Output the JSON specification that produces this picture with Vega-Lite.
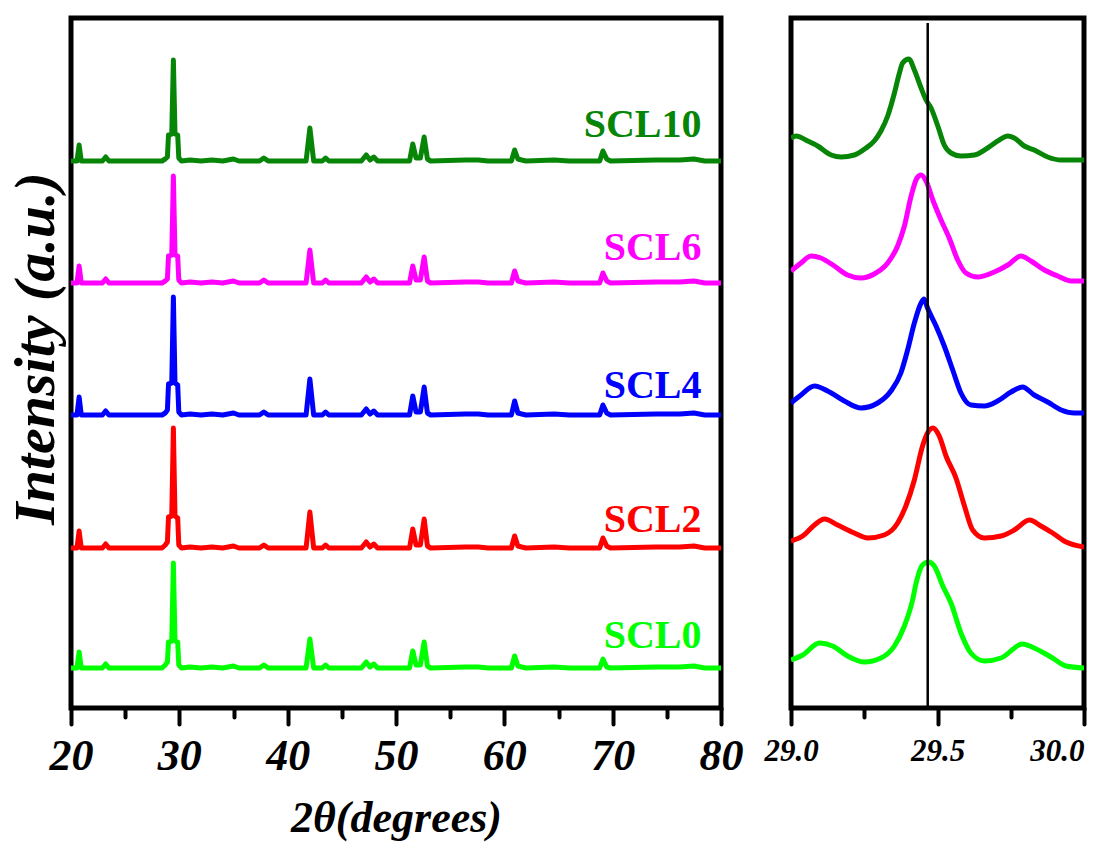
{
  "$schema": "https://vega.github.io/schema/vega-lite/v6.json",
  "background": "white",
  "padding": {"left": 4, "top": 15, "right": 0, "bottom": 0},
  "spacing": 70,
  "bounds": "flush",
  "config": {
    "view": {"stroke": "black", "strokeWidth": 5},
    "font": "Liberation Serif, Times New Roman, serif"
  },
  "datasets": {
    "labels": [
      {"s": "SCL10", "x": 78.2, "y": 583},
      {"s": "SCL6", "x": 78.2, "y": 460},
      {"s": "SCL4", "x": 78.2, "y": 322},
      {"s": "SCL2", "x": 78.2, "y": 188},
      {"s": "SCL0", "x": 78.2, "y": 72}
    ],
    "xrd": [
      {"s":"SCL10","x":20,"y":547},{"s":"SCL10","x":20.55,"y":547},{"s":"SCL10","x":20.75,"y":563},{"s":"SCL10","x":20.95,"y":547},{"s":"SCL10","x":22.9,"y":547},{"s":"SCL10","x":23.2,"y":551},{"s":"SCL10","x":23.5,"y":547},{"s":"SCL10","x":28.4,"y":547},{"s":"SCL10","x":28.7,"y":549},{"s":"SCL10","x":28.9,"y":551},{"s":"SCL10","x":29.0,"y":573},{"s":"SCL10","x":29.3,"y":574},{"s":"SCL10","x":29.45,"y":648},{"s":"SCL10","x":29.6,"y":574},{"s":"SCL10","x":29.85,"y":573},{"s":"SCL10","x":29.95,"y":550},{"s":"SCL10","x":30.2,"y":547},{"s":"SCL10","x":31,"y":548},{"s":"SCL10","x":32,"y":547},{"s":"SCL10","x":33,"y":548},{"s":"SCL10","x":34,"y":547},{"s":"SCL10","x":35,"y":549},{"s":"SCL10","x":35.5,"y":547},{"s":"SCL10","x":37.4,"y":547},{"s":"SCL10","x":37.8,"y":550},{"s":"SCL10","x":38.2,"y":547},{"s":"SCL10","x":41.7,"y":547},{"s":"SCL10","x":42.05,"y":580},{"s":"SCL10","x":42.4,"y":547},{"s":"SCL10","x":43.2,"y":547},{"s":"SCL10","x":43.5,"y":550},{"s":"SCL10","x":43.8,"y":547},{"s":"SCL10","x":46.8,"y":547},{"s":"SCL10","x":47.25,"y":553},{"s":"SCL10","x":47.6,"y":548},{"s":"SCL10","x":47.95,"y":551},{"s":"SCL10","x":48.3,"y":547},{"s":"SCL10","x":51.25,"y":547},{"s":"SCL10","x":51.55,"y":564},{"s":"SCL10","x":51.85,"y":550},{"s":"SCL10","x":52.25,"y":550},{"s":"SCL10","x":52.6,"y":571},{"s":"SCL10","x":52.9,"y":549},{"s":"SCL10","x":53.2,"y":547},{"s":"SCL10","x":56.4,"y":548},{"s":"SCL10","x":57.6,"y":548},{"s":"SCL10","x":58.5,"y":547},{"s":"SCL10","x":60.65,"y":547},{"s":"SCL10","x":60.95,"y":558},{"s":"SCL10","x":61.25,"y":549},{"s":"SCL10","x":61.6,"y":548},{"s":"SCL10","x":62,"y":547},{"s":"SCL10","x":64.6,"y":548},{"s":"SCL10","x":66,"y":547},{"s":"SCL10","x":68.8,"y":547},{"s":"SCL10","x":69.1,"y":557},{"s":"SCL10","x":69.45,"y":549},{"s":"SCL10","x":69.8,"y":547},{"s":"SCL10","x":74,"y":548},{"s":"SCL10","x":76.2,"y":548},{"s":"SCL10","x":77.5,"y":549},{"s":"SCL10","x":78.5,"y":547},{"s":"SCL10","x":80,"y":547},

      {"s":"SCL6","x":20,"y":425},{"s":"SCL6","x":20.55,"y":425},{"s":"SCL6","x":20.75,"y":442},{"s":"SCL6","x":20.95,"y":425},{"s":"SCL6","x":22.9,"y":425},{"s":"SCL6","x":23.2,"y":429},{"s":"SCL6","x":23.5,"y":425},{"s":"SCL6","x":28.4,"y":425},{"s":"SCL6","x":28.7,"y":427},{"s":"SCL6","x":28.9,"y":429},{"s":"SCL6","x":29.0,"y":452},{"s":"SCL6","x":29.3,"y":453},{"s":"SCL6","x":29.45,"y":532},{"s":"SCL6","x":29.6,"y":453},{"s":"SCL6","x":29.85,"y":452},{"s":"SCL6","x":29.95,"y":428},{"s":"SCL6","x":30.2,"y":425},{"s":"SCL6","x":31,"y":426},{"s":"SCL6","x":32,"y":425},{"s":"SCL6","x":33,"y":426},{"s":"SCL6","x":34,"y":425},{"s":"SCL6","x":35,"y":427},{"s":"SCL6","x":35.5,"y":425},{"s":"SCL6","x":37.4,"y":425},{"s":"SCL6","x":37.8,"y":428},{"s":"SCL6","x":38.2,"y":425},{"s":"SCL6","x":41.7,"y":425},{"s":"SCL6","x":42.05,"y":458},{"s":"SCL6","x":42.4,"y":425},{"s":"SCL6","x":43.2,"y":425},{"s":"SCL6","x":43.5,"y":428},{"s":"SCL6","x":43.8,"y":425},{"s":"SCL6","x":46.8,"y":425},{"s":"SCL6","x":47.25,"y":431},{"s":"SCL6","x":47.6,"y":426},{"s":"SCL6","x":47.95,"y":429},{"s":"SCL6","x":48.3,"y":425},{"s":"SCL6","x":51.25,"y":425},{"s":"SCL6","x":51.55,"y":442},{"s":"SCL6","x":51.85,"y":428},{"s":"SCL6","x":52.25,"y":428},{"s":"SCL6","x":52.6,"y":451},{"s":"SCL6","x":52.9,"y":427},{"s":"SCL6","x":53.2,"y":425},{"s":"SCL6","x":56.4,"y":426},{"s":"SCL6","x":57.6,"y":426},{"s":"SCL6","x":58.5,"y":425},{"s":"SCL6","x":60.65,"y":425},{"s":"SCL6","x":60.95,"y":437},{"s":"SCL6","x":61.25,"y":427},{"s":"SCL6","x":61.6,"y":426},{"s":"SCL6","x":62,"y":425},{"s":"SCL6","x":64.6,"y":426},{"s":"SCL6","x":66,"y":425},{"s":"SCL6","x":68.8,"y":425},{"s":"SCL6","x":69.1,"y":435},{"s":"SCL6","x":69.45,"y":427},{"s":"SCL6","x":69.8,"y":425},{"s":"SCL6","x":74,"y":426},{"s":"SCL6","x":76.2,"y":426},{"s":"SCL6","x":77.5,"y":427},{"s":"SCL6","x":78.5,"y":425},{"s":"SCL6","x":80,"y":425},

      {"s":"SCL4","x":20,"y":293},{"s":"SCL4","x":20.55,"y":293},{"s":"SCL4","x":20.75,"y":311},{"s":"SCL4","x":20.95,"y":293},{"s":"SCL4","x":22.9,"y":293},{"s":"SCL4","x":23.2,"y":297},{"s":"SCL4","x":23.5,"y":293},{"s":"SCL4","x":28.4,"y":293},{"s":"SCL4","x":28.7,"y":295},{"s":"SCL4","x":28.9,"y":298},{"s":"SCL4","x":29.0,"y":324},{"s":"SCL4","x":29.3,"y":325},{"s":"SCL4","x":29.45,"y":411},{"s":"SCL4","x":29.6,"y":325},{"s":"SCL4","x":29.85,"y":323},{"s":"SCL4","x":29.95,"y":296},{"s":"SCL4","x":30.2,"y":293},{"s":"SCL4","x":31,"y":294},{"s":"SCL4","x":32,"y":293},{"s":"SCL4","x":33,"y":294},{"s":"SCL4","x":34,"y":293},{"s":"SCL4","x":35,"y":295},{"s":"SCL4","x":35.5,"y":293},{"s":"SCL4","x":37.4,"y":293},{"s":"SCL4","x":37.8,"y":296},{"s":"SCL4","x":38.2,"y":293},{"s":"SCL4","x":41.7,"y":293},{"s":"SCL4","x":42.05,"y":329},{"s":"SCL4","x":42.4,"y":293},{"s":"SCL4","x":43.2,"y":293},{"s":"SCL4","x":43.5,"y":296},{"s":"SCL4","x":43.8,"y":293},{"s":"SCL4","x":46.8,"y":293},{"s":"SCL4","x":47.25,"y":299},{"s":"SCL4","x":47.6,"y":294},{"s":"SCL4","x":47.95,"y":297},{"s":"SCL4","x":48.3,"y":293},{"s":"SCL4","x":51.25,"y":293},{"s":"SCL4","x":51.55,"y":312},{"s":"SCL4","x":51.85,"y":296},{"s":"SCL4","x":52.25,"y":296},{"s":"SCL4","x":52.6,"y":321},{"s":"SCL4","x":52.9,"y":295},{"s":"SCL4","x":53.2,"y":293},{"s":"SCL4","x":56.4,"y":294},{"s":"SCL4","x":57.6,"y":294},{"s":"SCL4","x":58.5,"y":293},{"s":"SCL4","x":60.65,"y":293},{"s":"SCL4","x":60.95,"y":307},{"s":"SCL4","x":61.25,"y":295},{"s":"SCL4","x":61.6,"y":294},{"s":"SCL4","x":62,"y":293},{"s":"SCL4","x":64.6,"y":294},{"s":"SCL4","x":66,"y":293},{"s":"SCL4","x":68.8,"y":293},{"s":"SCL4","x":69.1,"y":303},{"s":"SCL4","x":69.45,"y":295},{"s":"SCL4","x":69.8,"y":293},{"s":"SCL4","x":74,"y":294},{"s":"SCL4","x":76.2,"y":294},{"s":"SCL4","x":77.5,"y":295},{"s":"SCL4","x":78.5,"y":293},{"s":"SCL4","x":80,"y":293},

      {"s":"SCL2","x":20,"y":160},{"s":"SCL2","x":20.55,"y":160},{"s":"SCL2","x":20.75,"y":177},{"s":"SCL2","x":20.95,"y":160},{"s":"SCL2","x":22.9,"y":160},{"s":"SCL2","x":23.2,"y":164},{"s":"SCL2","x":23.5,"y":160},{"s":"SCL2","x":28.4,"y":160},{"s":"SCL2","x":28.7,"y":163},{"s":"SCL2","x":28.9,"y":166},{"s":"SCL2","x":29.0,"y":191},{"s":"SCL2","x":29.3,"y":192},{"s":"SCL2","x":29.45,"y":280},{"s":"SCL2","x":29.6,"y":192},{"s":"SCL2","x":29.85,"y":190},{"s":"SCL2","x":29.95,"y":163},{"s":"SCL2","x":30.2,"y":160},{"s":"SCL2","x":31,"y":161},{"s":"SCL2","x":32,"y":160},{"s":"SCL2","x":33,"y":161},{"s":"SCL2","x":34,"y":160},{"s":"SCL2","x":35,"y":162},{"s":"SCL2","x":35.5,"y":160},{"s":"SCL2","x":37.4,"y":160},{"s":"SCL2","x":37.8,"y":163},{"s":"SCL2","x":38.2,"y":160},{"s":"SCL2","x":41.7,"y":160},{"s":"SCL2","x":42.05,"y":196},{"s":"SCL2","x":42.4,"y":160},{"s":"SCL2","x":43.2,"y":160},{"s":"SCL2","x":43.5,"y":163},{"s":"SCL2","x":43.8,"y":160},{"s":"SCL2","x":46.8,"y":160},{"s":"SCL2","x":47.25,"y":166},{"s":"SCL2","x":47.6,"y":161},{"s":"SCL2","x":47.95,"y":164},{"s":"SCL2","x":48.3,"y":160},{"s":"SCL2","x":51.25,"y":160},{"s":"SCL2","x":51.55,"y":179},{"s":"SCL2","x":51.85,"y":163},{"s":"SCL2","x":52.25,"y":163},{"s":"SCL2","x":52.6,"y":189},{"s":"SCL2","x":52.9,"y":162},{"s":"SCL2","x":53.2,"y":160},{"s":"SCL2","x":56.4,"y":161},{"s":"SCL2","x":57.6,"y":161},{"s":"SCL2","x":58.5,"y":160},{"s":"SCL2","x":60.65,"y":160},{"s":"SCL2","x":60.95,"y":172},{"s":"SCL2","x":61.25,"y":162},{"s":"SCL2","x":61.6,"y":161},{"s":"SCL2","x":62,"y":160},{"s":"SCL2","x":64.6,"y":161},{"s":"SCL2","x":66,"y":160},{"s":"SCL2","x":68.8,"y":160},{"s":"SCL2","x":69.1,"y":170},{"s":"SCL2","x":69.45,"y":162},{"s":"SCL2","x":69.8,"y":160},{"s":"SCL2","x":74,"y":161},{"s":"SCL2","x":76.2,"y":161},{"s":"SCL2","x":77.5,"y":162},{"s":"SCL2","x":78.5,"y":160},{"s":"SCL2","x":80,"y":160},

      {"s":"SCL0","x":20,"y":40},{"s":"SCL0","x":20.55,"y":40},{"s":"SCL0","x":20.75,"y":56},{"s":"SCL0","x":20.95,"y":40},{"s":"SCL0","x":22.9,"y":40},{"s":"SCL0","x":23.2,"y":44},{"s":"SCL0","x":23.5,"y":40},{"s":"SCL0","x":28.4,"y":40},{"s":"SCL0","x":28.7,"y":43},{"s":"SCL0","x":28.9,"y":46},{"s":"SCL0","x":29.0,"y":66},{"s":"SCL0","x":29.3,"y":67},{"s":"SCL0","x":29.45,"y":145},{"s":"SCL0","x":29.6,"y":67},{"s":"SCL0","x":29.85,"y":66},{"s":"SCL0","x":29.95,"y":43},{"s":"SCL0","x":30.2,"y":40},{"s":"SCL0","x":31,"y":41},{"s":"SCL0","x":32,"y":40},{"s":"SCL0","x":33,"y":41},{"s":"SCL0","x":34,"y":40},{"s":"SCL0","x":35,"y":42},{"s":"SCL0","x":35.5,"y":40},{"s":"SCL0","x":37.4,"y":40},{"s":"SCL0","x":37.8,"y":43},{"s":"SCL0","x":38.2,"y":40},{"s":"SCL0","x":41.7,"y":40},{"s":"SCL0","x":42.05,"y":69},{"s":"SCL0","x":42.4,"y":40},{"s":"SCL0","x":43.2,"y":40},{"s":"SCL0","x":43.5,"y":43},{"s":"SCL0","x":43.8,"y":40},{"s":"SCL0","x":46.8,"y":40},{"s":"SCL0","x":47.25,"y":46},{"s":"SCL0","x":47.6,"y":41},{"s":"SCL0","x":47.95,"y":44},{"s":"SCL0","x":48.3,"y":40},{"s":"SCL0","x":51.25,"y":40},{"s":"SCL0","x":51.55,"y":57},{"s":"SCL0","x":51.85,"y":43},{"s":"SCL0","x":52.25,"y":43},{"s":"SCL0","x":52.6,"y":66},{"s":"SCL0","x":52.9,"y":42},{"s":"SCL0","x":53.2,"y":40},{"s":"SCL0","x":56.4,"y":41},{"s":"SCL0","x":57.6,"y":41},{"s":"SCL0","x":58.5,"y":40},{"s":"SCL0","x":60.65,"y":40},{"s":"SCL0","x":60.95,"y":52},{"s":"SCL0","x":61.25,"y":42},{"s":"SCL0","x":61.6,"y":41},{"s":"SCL0","x":62,"y":40},{"s":"SCL0","x":64.6,"y":41},{"s":"SCL0","x":66,"y":40},{"s":"SCL0","x":68.8,"y":40},{"s":"SCL0","x":69.1,"y":49},{"s":"SCL0","x":69.45,"y":41},{"s":"SCL0","x":69.8,"y":40},{"s":"SCL0","x":74,"y":41},{"s":"SCL0","x":76.2,"y":41},{"s":"SCL0","x":77.5,"y":42},{"s":"SCL0","x":78.5,"y":40},{"s":"SCL0","x":80,"y":40}
    ],
    "zoomed": [
      {"s":"SCL10","x":29.000,"y":570},{"s":"SCL10","x":29.017,"y":572},{"s":"SCL10","x":29.057,"y":567},{"s":"SCL10","x":29.091,"y":562},{"s":"SCL10","x":29.137,"y":553},{"s":"SCL10","x":29.171,"y":551},{"s":"SCL10","x":29.216,"y":553},{"s":"SCL10","x":29.256,"y":560},{"s":"SCL10","x":29.284,"y":567},{"s":"SCL10","x":29.307,"y":577},{"s":"SCL10","x":29.330,"y":592},{"s":"SCL10","x":29.353,"y":615},{"s":"SCL10","x":29.370,"y":635},{"s":"SCL10","x":29.381,"y":645},{"s":"SCL10","x":29.402,"y":649},{"s":"SCL10","x":29.421,"y":638},{"s":"SCL10","x":29.444,"y":620},{"s":"SCL10","x":29.461,"y":608},{"s":"SCL10","x":29.478,"y":600},{"s":"SCL10","x":29.501,"y":582},{"s":"SCL10","x":29.523,"y":563},{"s":"SCL10","x":29.546,"y":555},{"s":"SCL10","x":29.580,"y":552},{"s":"SCL10","x":29.626,"y":553},{"s":"SCL10","x":29.671,"y":560},{"s":"SCL10","x":29.711,"y":568},{"s":"SCL10","x":29.740,"y":572},{"s":"SCL10","x":29.762,"y":570},{"s":"SCL10","x":29.796,"y":562},{"s":"SCL10","x":29.830,"y":558},{"s":"SCL10","x":29.876,"y":551},{"s":"SCL10","x":29.922,"y":548},{"s":"SCL10","x":29.967,"y":548},{"s":"SCL10","x":30.000,"y":548},

      {"s":"SCL6","x":29.000,"y":437},{"s":"SCL6","x":29.034,"y":445},{"s":"SCL6","x":29.068,"y":452},{"s":"SCL6","x":29.102,"y":450},{"s":"SCL6","x":29.148,"y":442},{"s":"SCL6","x":29.193,"y":433},{"s":"SCL6","x":29.239,"y":430},{"s":"SCL6","x":29.284,"y":434},{"s":"SCL6","x":29.330,"y":445},{"s":"SCL6","x":29.364,"y":462},{"s":"SCL6","x":29.387,"y":482},{"s":"SCL6","x":29.410,"y":512},{"s":"SCL6","x":29.430,"y":530},{"s":"SCL6","x":29.444,"y":533},{"s":"SCL6","x":29.461,"y":527},{"s":"SCL6","x":29.484,"y":508},{"s":"SCL6","x":29.512,"y":488},{"s":"SCL6","x":29.540,"y":470},{"s":"SCL6","x":29.569,"y":448},{"s":"SCL6","x":29.597,"y":435},{"s":"SCL6","x":29.637,"y":431},{"s":"SCL6","x":29.694,"y":436},{"s":"SCL6","x":29.740,"y":443},{"s":"SCL6","x":29.785,"y":452},{"s":"SCL6","x":29.819,"y":447},{"s":"SCL6","x":29.865,"y":438},{"s":"SCL6","x":29.910,"y":432},{"s":"SCL6","x":29.956,"y":427},{"s":"SCL6","x":30.000,"y":427},

      {"s":"SCL4","x":29.000,"y":305},{"s":"SCL4","x":29.034,"y":313},{"s":"SCL4","x":29.080,"y":322},{"s":"SCL4","x":29.125,"y":317},{"s":"SCL4","x":29.182,"y":307},{"s":"SCL4","x":29.239,"y":300},{"s":"SCL4","x":29.296,"y":305},{"s":"SCL4","x":29.341,"y":317},{"s":"SCL4","x":29.375,"y":335},{"s":"SCL4","x":29.398,"y":358},{"s":"SCL4","x":29.421,"y":385},{"s":"SCL4","x":29.444,"y":405},{"s":"SCL4","x":29.454,"y":409},{"s":"SCL4","x":29.466,"y":400},{"s":"SCL4","x":29.495,"y":382},{"s":"SCL4","x":29.523,"y":362},{"s":"SCL4","x":29.552,"y":338},{"s":"SCL4","x":29.580,"y":315},{"s":"SCL4","x":29.614,"y":303},{"s":"SCL4","x":29.660,"y":302},{"s":"SCL4","x":29.705,"y":307},{"s":"SCL4","x":29.751,"y":316},{"s":"SCL4","x":29.790,"y":321},{"s":"SCL4","x":29.830,"y":313},{"s":"SCL4","x":29.876,"y":306},{"s":"SCL4","x":29.922,"y":298},{"s":"SCL4","x":29.967,"y":295},{"s":"SCL4","x":30.000,"y":295},

      {"s":"SCL2","x":29.000,"y":167},{"s":"SCL2","x":29.040,"y":172},{"s":"SCL2","x":29.080,"y":183},{"s":"SCL2","x":29.114,"y":189},{"s":"SCL2","x":29.159,"y":183},{"s":"SCL2","x":29.216,"y":175},{"s":"SCL2","x":29.262,"y":170},{"s":"SCL2","x":29.318,"y":173},{"s":"SCL2","x":29.364,"y":185},{"s":"SCL2","x":29.392,"y":202},{"s":"SCL2","x":29.421,"y":228},{"s":"SCL2","x":29.449,"y":262},{"s":"SCL2","x":29.466,"y":275},{"s":"SCL2","x":29.484,"y":280},{"s":"SCL2","x":29.506,"y":272},{"s":"SCL2","x":29.529,"y":252},{"s":"SCL2","x":29.563,"y":230},{"s":"SCL2","x":29.592,"y":202},{"s":"SCL2","x":29.620,"y":178},{"s":"SCL2","x":29.660,"y":170},{"s":"SCL2","x":29.717,"y":172},{"s":"SCL2","x":29.762,"y":178},{"s":"SCL2","x":29.814,"y":188},{"s":"SCL2","x":29.853,"y":182},{"s":"SCL2","x":29.893,"y":175},{"s":"SCL2","x":29.939,"y":166},{"s":"SCL2","x":30.000,"y":161},

      {"s":"SCL0","x":29.000,"y":48},{"s":"SCL0","x":29.040,"y":53},{"s":"SCL0","x":29.097,"y":65},{"s":"SCL0","x":29.142,"y":62},{"s":"SCL0","x":29.193,"y":52},{"s":"SCL0","x":29.250,"y":46},{"s":"SCL0","x":29.307,"y":50},{"s":"SCL0","x":29.353,"y":62},{"s":"SCL0","x":29.387,"y":82},{"s":"SCL0","x":29.415,"y":108},{"s":"SCL0","x":29.427,"y":125},{"s":"SCL0","x":29.449,"y":143},{"s":"SCL0","x":29.469,"y":146},{"s":"SCL0","x":29.489,"y":142},{"s":"SCL0","x":29.518,"y":122},{"s":"SCL0","x":29.546,"y":105},{"s":"SCL0","x":29.580,"y":75},{"s":"SCL0","x":29.614,"y":55},{"s":"SCL0","x":29.660,"y":47},{"s":"SCL0","x":29.717,"y":50},{"s":"SCL0","x":29.790,"y":64},{"s":"SCL0","x":29.830,"y":60},{"s":"SCL0","x":29.887,"y":51},{"s":"SCL0","x":29.939,"y":42},{"s":"SCL0","x":30.000,"y":40}
    ],
    "marker": [{"x": 29.4666, "y": 0, "y2": 685}]
  },
  "hconcat": [
    {
      "width": 650,
      "height": 690,
      "layer": [
        {
          "data": {"name": "xrd"},
          "mark": {"type": "line", "strokeWidth": 5, "strokeJoin": "round", "strokeCap": "round", "clip": true},
          "encoding": {
            "x": {
              "field": "x", "type": "quantitative",
              "scale": {"domain": [20, 80], "nice": false, "zero": false},
              "axis": {
                "values": [20, 25, 30, 35, 40, 45, 50, 55, 60, 65, 70, 75, 80],
                "labelExpr": "datum.value % 10 === 0 ? datum.label : ''",
                "tickSize": {"condition": {"test": "datum.value % 10 === 0", "value": 16}, "value": 9},
                "tickWidth": 4, "tickColor": "black", "tickCap": "round",
                "domain": false, "grid": false,
                "labelFont": "Liberation Serif, Times New Roman, serif", "labelFontSize": 44, "labelFontStyle": "italic", "labelFontWeight": "bold", "labelColor": "black",
                "labelPadding": 10, "labelFlush": false, "labelOverlap": false,
                "title": "2θ(degrees)",
                "titleFont": "Liberation Serif, Times New Roman, serif", "titleFontSize": 44, "titleFontStyle": "italic", "titleFontWeight": "bold", "titleColor": "black",
                "titlePadding": 18
              }
            },
            "y": {
              "field": "y", "type": "quantitative",
              "scale": {"domain": [0, 690], "nice": false, "zero": false},
              "axis": {
                "title": "Intensity (a.u.)",
                "ticks": false, "labels": false, "domain": false, "grid": false,
                "titleFont": "Liberation Serif, Times New Roman, serif", "titleFontSize": 58, "titleFontStyle": "italic", "titleFontWeight": "bold", "titleColor": "black",
                "titlePadding": 6, "titleY": 330
              }
            },
            "color": {
              "field": "s", "type": "nominal",
              "scale": {"domain": ["SCL10", "SCL6", "SCL4", "SCL2", "SCL0"], "range": ["#078507", "#ff00ff", "#0000ff", "#ff0000", "#00ff00"]},
              "legend": null
            }
          }
        },
        {
          "data": {"name": "labels"},
          "mark": {"type": "text", "align": "right", "baseline": "middle", "font": "Liberation Serif, Times New Roman, serif", "fontWeight": "bold", "fontSize": 40},
          "encoding": {
            "x": {"field": "x", "type": "quantitative"},
            "y": {"field": "y", "type": "quantitative"},
            "text": {"field": "s"},
            "color": {"field": "s", "type": "nominal", "legend": null}
          }
        }
      ]
    },
    {
      "width": 293,
      "height": 690,
      "layer": [
        {
          "data": {"name": "zoomed"},
          "mark": {"type": "line", "strokeWidth": 5, "interpolate": "monotone", "strokeJoin": "round", "clip": true},
          "encoding": {
            "x": {
              "field": "x", "type": "quantitative",
              "scale": {"domain": [29, 30], "nice": false, "zero": false},
              "axis": {
                "values": [29, 29.25, 29.5, 29.75, 30],
                "labelExpr": "(datum.value * 2) % 1 === 0 ? format(datum.value, '.1f') : ''",
                "tickSize": {"condition": {"test": "(datum.value * 2) % 1 === 0", "value": 16}, "value": 9},
                "tickWidth": 4, "tickColor": "black", "tickCap": "round",
                "domain": false, "grid": false,
                "labelFont": "Liberation Serif, Times New Roman, serif", "labelFontSize": 31, "labelFontStyle": "italic", "labelFontWeight": "bold", "labelColor": "black",
                "labelAlign": {"condition": {"test": "datum.value > 29.9", "value": "right"}, "value": "center"},
                "labelPadding": 12, "labelFlush": false, "labelOverlap": false,
                "title": null
              }
            },
            "y": {
              "field": "y", "type": "quantitative",
              "scale": {"domain": [0, 690], "nice": false, "zero": false},
              "axis": null
            },
            "color": {
              "field": "s", "type": "nominal",
              "scale": {"domain": ["SCL10", "SCL6", "SCL4", "SCL2", "SCL0"], "range": ["#078507", "#ff00ff", "#0000ff", "#ff0000", "#00ff00"]},
              "legend": null
            }
          }
        },
        {
          "data": {"name": "marker"},
          "mark": {"type": "rule", "color": "black", "strokeWidth": 2.5},
          "encoding": {
            "x": {"field": "x", "type": "quantitative"},
            "y": {"field": "y", "type": "quantitative"},
            "y2": {"field": "y2"}
          }
        }
      ]
    }
  ]
}
